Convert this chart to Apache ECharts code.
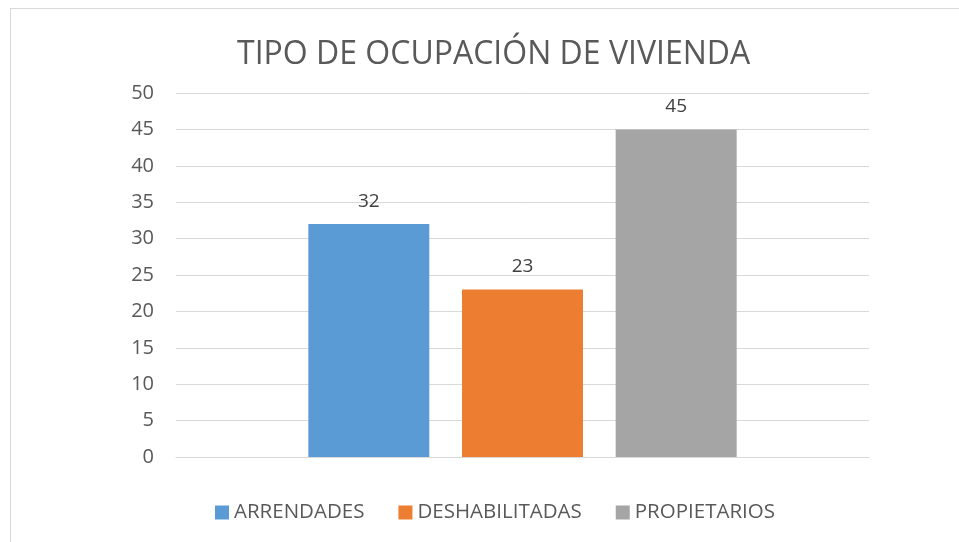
<!DOCTYPE html>
<html>
<head>
<meta charset="utf-8">
<script src="https://cdn.jsdelivr.net/npm/echarts@6/dist/echarts.min.js"></script>
<style>
	html, body { margin: 0; padding: 0; background: #fff; }
	#frame { position: absolute; left: 10px; top: 8px; width: 1000px; height: 600px; border: 1px solid #d9d9d9; }
	#chart { position: absolute; left: 0; top: 0; width: 959px; height: 542px; }
</style>
</head>
<body>
<div id="frame"></div>
<div id="chart"></div>
<script>
// 数据
const categories = ['TIPO'];
const seriesNames = ['ARRENDADES', 'DESHABILITADAS', 'PROPIETARIOS'];
const seriesValues = [[32], [23], [45]];
const seriesColors = ['#5b9bd5', '#ed7d31', '#a5a5a5'];

const fontFam = 'Open Sans, Noto Sans, sans-serif';

let myChart = echarts.init(document.getElementById('chart'));
myChart.setOption({
	animation: false,
	title: {
		text: 'TIPO DE OCUPACIÓN DE VIVIENDA',
		left: 232,
		top: 34,
		textStyle: { fontFamily: fontFam, fontSize: 32, fontWeight: 'normal', color: '#595959' }
	},
	legend: {
		bottom: 14,
		left: 210,
		itemWidth: 14,
		itemHeight: 14,
		itemGap: 34,
		icon: 'rect',
		textStyle: { fontFamily: fontFam, fontSize: 20.5, color: '#595959' },
		data: seriesNames
	},
	grid: { left: 176, right: 90, top: 93, bottom: 85 },
	xAxis: {
		type: 'category',
		data: categories,
		axisLine: { show: true, lineStyle: { color: '#d9d9d9', width: 1 } },
		axisTick: { show: false },
		axisLabel: { show: false }
	},
	yAxis: {
		type: 'value',
		min: 0,
		max: 50,
		interval: 5,
		axisLine: { show: false },
		axisTick: { show: false },
		axisLabel: { fontFamily: fontFam, fontSize: 20, color: '#595959', margin: 22 },
		splitLine: { lineStyle: { color: '#d9d9d9', width: 1 } }
	},
	series: seriesNames.map((name, i) => ({
		name: name,
		type: 'bar',
		data: seriesValues[i],
		barWidth: 121,
		barGap: '27%',
		itemStyle: { color: seriesColors[i] },
		label: {
			show: true,
			position: 'top',
			distance: 13,
			fontFamily: fontFam,
			fontSize: 19,
			color: '#404040'
		}
	}))
});
</script>
</body>
</html>
